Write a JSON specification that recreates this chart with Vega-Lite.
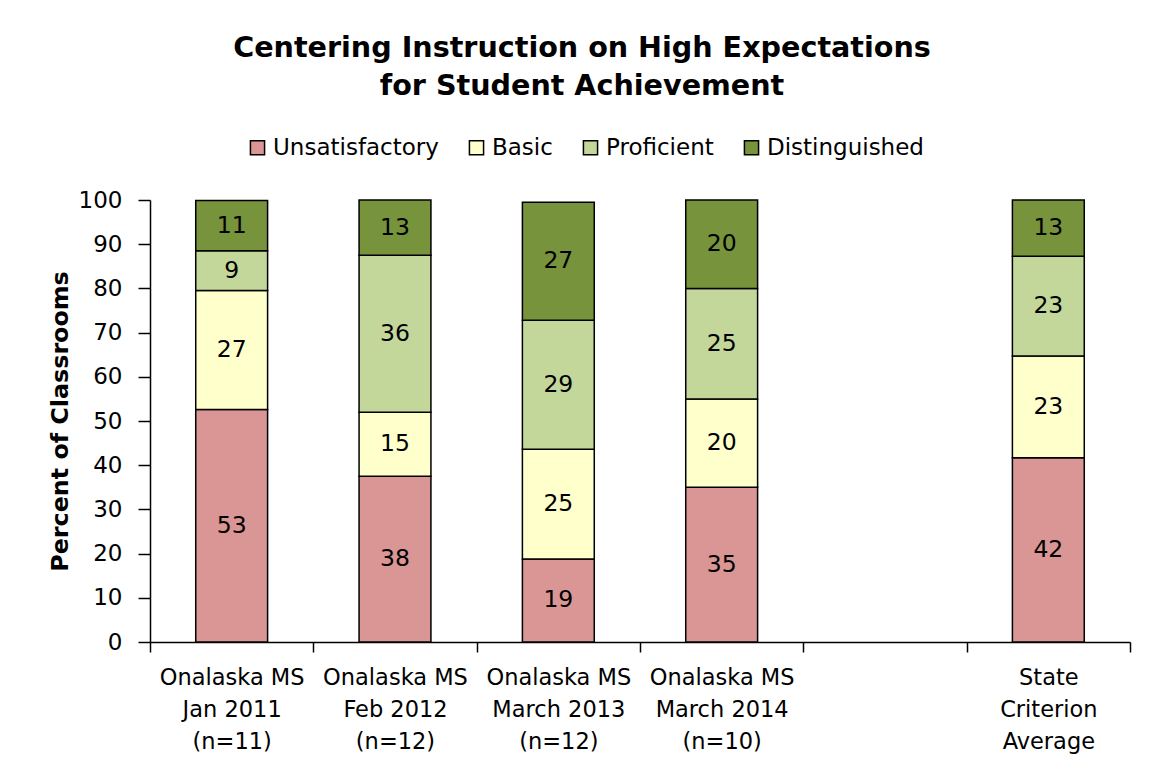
{
  "$schema": "https://vega.github.io/schema/vega-lite/v6.json",
  "width": 980,
  "height": 442,
  "autosize": "none",
  "padding": {"left": 150, "top": 200, "right": 23, "bottom": 128},
  "background": "white",
  "title": {
    "text": ["Centering Instruction on High Expectations", "for Student Achievement"],
    "font": "DejaVu Sans",
    "fontSize": 28.6,
    "fontWeight": "bold",
    "color": "black",
    "lineHeight": 38,
    "anchor": "middle",
    "frame": "group",
    "dx": -58,
    "offset": 35
  },
  "data": {
    "values": [
      {"cat": "Onalaska MS|Jan 2011|(n=11)", "level": "Unsatisfactory", "rank": 1, "value": 52.6},
      {"cat": "Onalaska MS|Jan 2011|(n=11)", "level": "Basic", "rank": 2, "value": 26.9},
      {"cat": "Onalaska MS|Jan 2011|(n=11)", "level": "Proficient", "rank": 3, "value": 9.0},
      {"cat": "Onalaska MS|Jan 2011|(n=11)", "level": "Distinguished", "rank": 4, "value": 11.4},
      {"cat": "Onalaska MS|Feb 2012|(n=12)", "level": "Unsatisfactory", "rank": 1, "value": 37.5},
      {"cat": "Onalaska MS|Feb 2012|(n=12)", "level": "Basic", "rank": 2, "value": 14.5},
      {"cat": "Onalaska MS|Feb 2012|(n=12)", "level": "Proficient", "rank": 3, "value": 35.5},
      {"cat": "Onalaska MS|Feb 2012|(n=12)", "level": "Distinguished", "rank": 4, "value": 12.5},
      {"cat": "Onalaska MS|March 2013|(n=12)", "level": "Unsatisfactory", "rank": 1, "value": 18.8},
      {"cat": "Onalaska MS|March 2013|(n=12)", "level": "Basic", "rank": 2, "value": 24.8},
      {"cat": "Onalaska MS|March 2013|(n=12)", "level": "Proficient", "rank": 3, "value": 29.2},
      {"cat": "Onalaska MS|March 2013|(n=12)", "level": "Distinguished", "rank": 4, "value": 26.7},
      {"cat": "Onalaska MS|March 2014|(n=10)", "level": "Unsatisfactory", "rank": 1, "value": 35},
      {"cat": "Onalaska MS|March 2014|(n=10)", "level": "Basic", "rank": 2, "value": 20},
      {"cat": "Onalaska MS|March 2014|(n=10)", "level": "Proficient", "rank": 3, "value": 25},
      {"cat": "Onalaska MS|March 2014|(n=10)", "level": "Distinguished", "rank": 4, "value": 20},
      {"cat": "State|Criterion|Average", "level": "Unsatisfactory", "rank": 1, "value": 41.7},
      {"cat": "State|Criterion|Average", "level": "Basic", "rank": 2, "value": 23.0},
      {"cat": "State|Criterion|Average", "level": "Proficient", "rank": 3, "value": 22.6},
      {"cat": "State|Criterion|Average", "level": "Distinguished", "rank": 4, "value": 12.7}
    ]
  },
  "transform": [
    {"stack": "value", "groupby": ["cat"], "sort": [{"field": "rank", "order": "ascending"}], "as": ["y0", "y1"]},
    {"calculate": "(datum.y0 + datum.y1) / 2", "as": "mid"}
  ],
  "encoding": {
    "x": {
      "field": "cat",
      "type": "nominal",
      "sort": null,
      "scale": {
        "domain": ["Onalaska MS|Jan 2011|(n=11)", "Onalaska MS|Feb 2012|(n=12)", "Onalaska MS|March 2013|(n=12)", "Onalaska MS|March 2014|(n=10)", " ", "State|Criterion|Average"],
        "paddingInner": 0,
        "paddingOuter": 0
      },
      "axis": {
        "title": null,
        "labelAngle": 0,
        "labelExpr": "split(datum.label, '|')",
        "labelFont": "DejaVu Sans",
        "labelFontSize": 22.5,
        "labelLineHeight": 32,
        "labelColor": "black",
        "labelPadding": 14,
        "labelBaseline": "top",
        "tickBand": "extent",
        "tickSize": 10,
        "tickColor": "black",
        "tickWidth": 1.5,
        "domainColor": "black",
        "domainWidth": 1.5,
        "labelLimit": 200
      }
    }
  },
  "layer": [
    {
      "mark": {"type": "bar", "stroke": "black", "strokeWidth": 1.5, "width": {"band": 0.44}},
      "encoding": {
        "y": {
          "field": "y0",
          "type": "quantitative",
          "scale": {"domain": [0, 100], "nice": false},
          "axis": {
            "title": "Percent of Classrooms",
            "titleFont": "DejaVu Sans",
            "titleFontSize": 23.8,
            "titleFontWeight": "bold",
            "titleColor": "black",
            "titlePadding": 6,
            "values": [0, 10, 20, 30, 40, 50, 60, 70, 80, 90, 100],
            "labelFont": "DejaVu Sans",
            "labelFontSize": 23,
            "labelColor": "black",
            "labelPadding": 16,
            "tickSize": 12,
            "tickColor": "black",
            "tickWidth": 1.5,
            "domainColor": "black",
            "domainWidth": 1.5,
            "grid": false
          }
        },
        "y2": {"field": "y1"},
        "color": {
          "field": "level",
          "type": "nominal",
          "scale": {
            "domain": ["Unsatisfactory", "Basic", "Proficient", "Distinguished"],
            "range": ["#D99694", "#FFFFCC", "#C4D79B", "#77933C"]
          },
          "legend": {
            "title": null,
            "orient": "none",
            "direction": "horizontal",
            "legendX": 96,
            "legendY": -64,
            "symbolType": "square",
            "symbolSize": 200,
            "symbolStrokeColor": "black",
            "symbolStrokeWidth": 1.5,
            "symbolOpacity": 1,
            "labelFont": "DejaVu Sans",
            "labelFontSize": 23,
            "labelLimit": 400,
            "labelColor": "black",
            "labelOffset": 4,
            "columnPadding": 26
          }
        }
      }
    },
    {
      "mark": {"type": "text", "font": "DejaVu Sans", "fontSize": 23.5, "color": "black", "baseline": "middle", "align": "center"},
      "encoding": {
        "y": {"field": "mid", "type": "quantitative"},
        "text": {"field": "value", "type": "quantitative", "format": ".0f"}
      }
    }
  ],
  "config": {"view": {"stroke": null}}
}
